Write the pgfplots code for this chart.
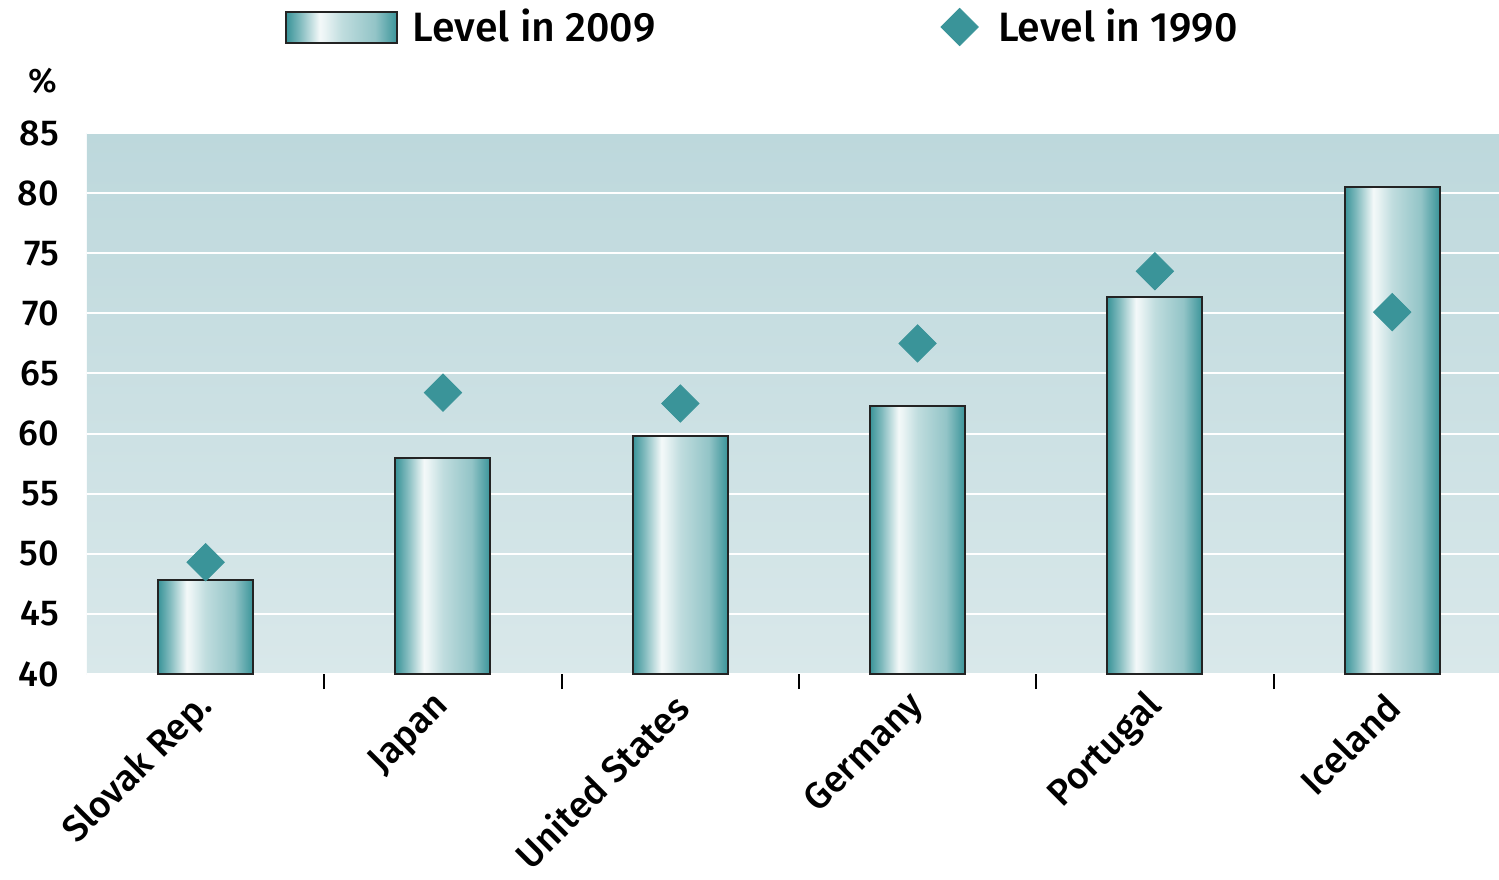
\documentclass[border=0pt]{standalone}
\usepackage{fontspec}
\setmainfont{Fira Sans}[UprightFont={* Medium}, BoldFont={* SemiBold}]
\usepackage{pgfplots}
\pgfplotsset{compat=1.18}
\definecolor{teal1}{RGB}{58,148,153}
\definecolor{bgtop}{RGB}{189,216,220}
\definecolor{bgbot}{RGB}{217,232,234}
\definecolor{barline}{RGB}{35,35,35}
\pgfdeclarehorizontalshading{barshade}{100bp}{color(0bp)=(teal1); color(25bp)=(teal1); color(31bp)=(teal1!65!white); color(40bp)=(white!94!teal1); color(42bp)=(white!90!teal1); color(50bp)=(teal1!32!white); color(65bp)=(teal1!55!white); color(75bp)=(teal1); color(100bp)=(teal1)}
\pgfplotsset{barsty/.style={ybar, bar width=47.5pt, bar shift=0pt, draw=barline, line width=1pt, shading=barshade, forget plot}}
\begin{document}
\begin{tikzpicture}
\begin{axis}[
  name=ax, at={(0,0)}, anchor=south west,
  scale only axis, width=706pt, height=270.5pt,
  xmin=-0.5, xmax=5.45, ymin=40, ymax=85,
  ytick={40,45,...,85},
  xtick={0,...,5},
  xticklabels={Slovak Rep., Japan, United States, Germany, Portugal, Iceland},
  minor xtick={0.5,1.5,...,4.5},
  major tick length=0pt, minor tick length=7.5pt, tick align=outside,
  minor tick style={black, line width=1pt},
  xtick pos=left, ytick pos=left,
  axis line style={draw=none},
  ymajorgrids, grid style={white, line width=1pt},
  axis background/.style={shade, top color=bgtop, bottom color=bgbot, draw=none},
  /pgf/number format/assume math mode=true,
  yticklabel style={font=\fontsize{18}{21}\selectfont, xshift=-10.5pt},
  xticklabel style={font=\fontsize{18.5}{22}\selectfont, xshift=3pt, yshift=-11pt, rotate=45, anchor=east},
  legend columns=2,
  legend style={at={(0.1409,1)}, anchor=west, xshift=-3.5pt, yshift=53pt, draw=none, fill=none,
    font=\fontsize{20.5}{24}\selectfont,
    /tikz/every even column/.append style={column sep=137pt}},
]
\addplot[barsty] coordinates {(0,47.8)};
\addplot[barsty] coordinates {(1,58.0)};
\addplot[barsty] coordinates {(2,59.8)};
\addplot[barsty] coordinates {(3,62.3)};
\addplot[barsty] coordinates {(4,71.4)};
\addplot[barsty] coordinates {(5,80.5)};
\addlegendimage{legend image code/.code={\draw[shading=barshade, draw=barline, line width=1pt] (0pt,-7.75pt) rectangle (55.5pt,7.75pt); \path (61pt,0pt);}}
\addlegendentry{Level in 2009}
\addlegendimage{legend image code/.code={\path (0pt,0pt) (30pt,0pt); \draw[only marks, mark=square*, mark size=6.6pt, mark options={rotate=45, fill=teal1, draw=teal1}] plot coordinates {(13pt,0pt)};}}
\addlegendentry{Level in 1990}
\addplot[only marks, mark=square*, mark size=6.6pt, mark options={rotate=45, fill=teal1, draw=teal1}, forget plot]
  coordinates {(0,49.3) (1,63.4) (2,62.5) (3,67.5) (4,73.5) (5,70.1)};
\end{axis}
\node[font=\fontsize{17}{20}\selectfont] at (ax.north west) [xshift=-22pt, yshift=26pt] {\%};
\pgfresetboundingbox
\path (-43.5pt,-102.5pt) rectangle (706pt,337pt);
\end{tikzpicture}
\end{document}
